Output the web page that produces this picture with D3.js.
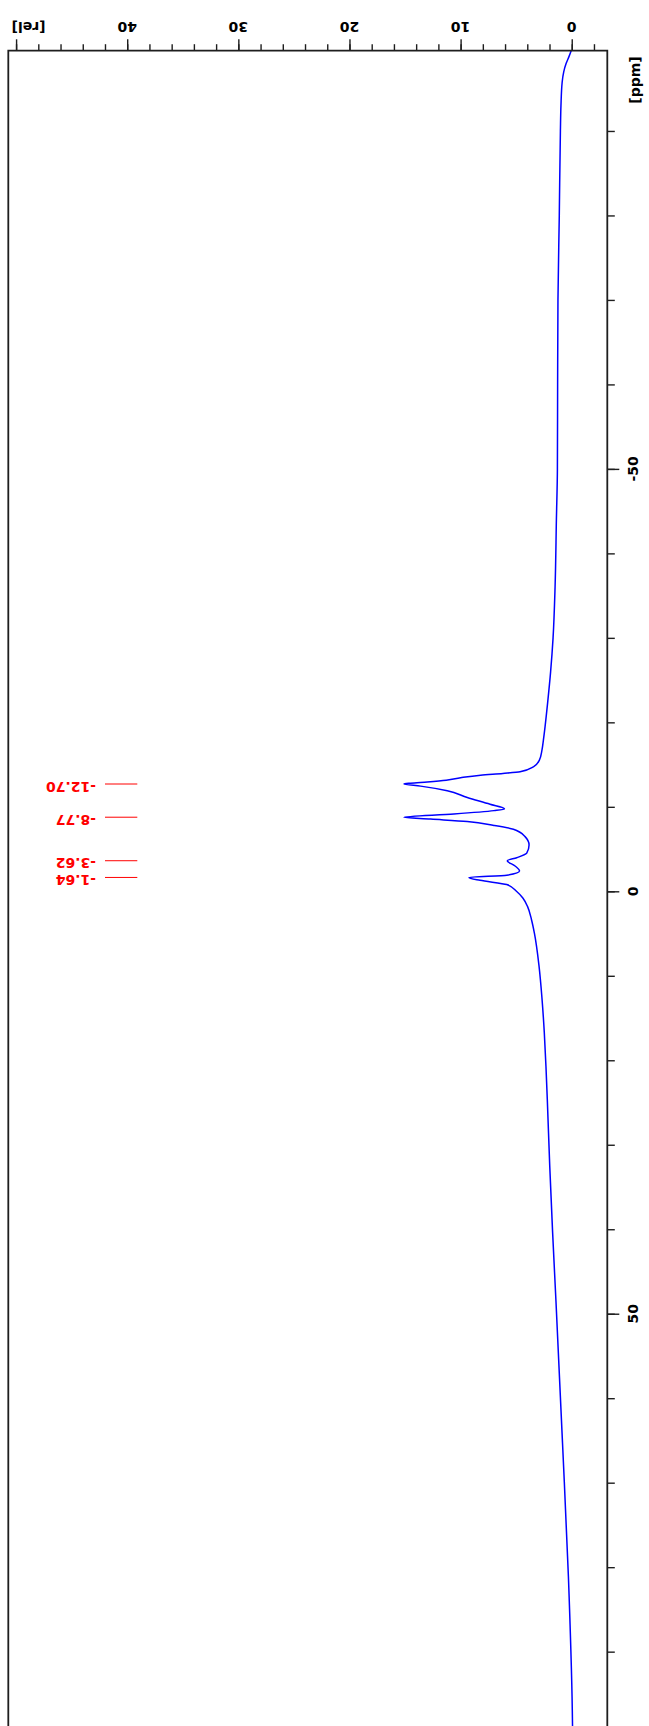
<!DOCTYPE html>
<html>
<head>
<meta charset="utf-8">
<script src="https://cdn.jsdelivr.net/npm/d3@7"></script>
<style>
  html, body { margin: 0; padding: 0; background: #fff; }
  svg { display: block; }
  text { font-family: "DejaVu Sans", sans-serif; font-weight: bold; }
</style>
</head>
<body>
<svg id="chart" width="649" height="1726"></svg>
<script>
// Chemical shift of each sampled spectrum point, in ppm
const shiftPpm = [
  -99.5, -98.8, -98.0, -97.0, -95.8, -93.0, -90.0, -80.0, -70.0, -60.0,
  -50.0, -44.0, -36.0, -30.0, -26.0, -22.3, -19.5, -17.9, -16.7, -15.5,
  -14.73, -14.14, -13.95, -13.75, -13.45, -13.15, -12.95, -12.80, -12.70, -12.45,
  -11.90, -11.10, -10.30, -9.75, -9.55, -9.15, -8.77, -8.55, -8.25, -7.80,
  -7.35, -6.47, -5.49, -4.51, -3.98, -3.62, -3.00, -2.40, -1.90, -1.64,
  -1.30, -0.80, 0.02, 0.80, 1.79, 3.36, 4.95, 8.88, 12.8, 16.7,
  20.7, 24.6, 32.5, 40.4, 48.5, 65.3, 81.1, 96.9, 98.8
];
// Relative intensity at each of those shifts
const intensity = [
  0.05, 0.25, 0.50, 0.72, 0.86, 0.97, 1.02, 1.12, 1.24, 1.27,
  1.29, 1.38, 1.50, 1.68, 1.90, 2.17, 2.40, 2.55, 2.68, 2.92,
  3.45, 4.65, 6.20, 8.20, 10.0, 11.3, 13.0, 14.5, 15.1, 13.6,
  11.2, 9.40, 7.35, 6.05, 7.00, 10.6, 15.1, 12.7, 9.40, 7.00,
  5.25, 4.20, 3.84, 4.05, 4.95, 5.80, 5.10, 4.70, 5.85, 9.25,
  8.25, 5.85, 4.95, 4.40, 3.98, 3.62, 3.36, 2.94, 2.67, 2.47,
  2.32, 2.20, 1.98, 1.72, 1.42, 0.83, 0.30, -0.05, -0.07
];
// Picked peaks
const peakPpm = [-12.70, -8.77, -3.62, -1.64];
const peakLabels = ["-12.70", "-8.77", "-3.62", "-1.64"];

// Axis ticks
const relMinorTicks = d3.range(-2, 51, 2);
const relMajorTicks = [0, 10, 20, 30, 40, 50];
const relTickLabels = ["0", "10", "20", "30", "40", "[rel]"];
const ppmMinorTicks = d3.range(-90, 91, 10);
const ppmMajorTicks = [-50, 0, 50];
const ppmTickLabels = ["-50", "0", "50"];

const svg = d3.select("#chart");

// Plot frame: intensity runs right-to-left along the top, shift runs downward on the right
const frame = { left: 8.3, top: 50.7, right: 607.3, bottom: 1726 };

const x = d3.scaleLinear().domain([50.7, -3.2]).range([frame.left, frame.right]);
const y = d3.scaleLinear().domain([-99.5, 98.8]).range([frame.top, frame.bottom]);

const axisColor = "#1e1e1e";
const labelSize = 14;

// Intensity axis along the top edge
const topMinor = d3.axisTop(x).tickValues(relMinorTicks).tickSize(6.5).tickFormat("");
const topMajor = d3.axisTop(x).tickValues(relMajorTicks).tickSize(11.4).tickFormat("");
[topMinor, topMajor].forEach(ax => {
  const g = svg.append("g").attr("transform", `translate(0,${frame.top})`).call(ax);
  g.select(".domain").remove();
  g.selectAll("line").attr("stroke", axisColor).attr("stroke-width", 1.4);
});

// Shift axis along the right edge
const rightMinor = d3.axisRight(y).tickValues(ppmMinorTicks).tickSize(7.5).tickFormat("");
const rightMajor = d3.axisRight(y).tickValues(ppmMajorTicks).tickSize(12).tickFormat("");
[rightMinor, rightMajor].forEach(ax => {
  const g = svg.append("g").attr("transform", `translate(${frame.right},0)`).call(ax);
  g.select(".domain").remove();
  g.selectAll("line").attr("stroke", axisColor).attr("stroke-width", 1.4);
});

// Intensity tick labels (upside down)
svg.append("g").selectAll("text")
  .data(relMajorTicks)
  .join("text")
  .attr("transform", (d, i) => {
    const px = x(d) + (relTickLabels[i] === "[rel]" ? 12.5 : 0);
    return `translate(${px},26.7) rotate(180)`;
  })
  .attr("text-anchor", "middle")
  .attr("dominant-baseline", "central")
  .attr("font-size", labelSize)
  .attr("fill", "#000")
  .text((d, i) => relTickLabels[i]);

// Shift tick labels (reading bottom to top)
svg.append("g").selectAll("text")
  .data(ppmMajorTicks)
  .join("text")
  .attr("transform", d => `translate(633,${y(d)}) rotate(-90)`)
  .attr("text-anchor", "middle")
  .attr("dominant-baseline", "central")
  .attr("font-size", labelSize)
  .attr("fill", "#000")
  .text((d, i) => ppmTickLabels[i]);

svg.append("text")
  .attr("transform", "translate(635,80) rotate(-90)")
  .attr("text-anchor", "middle")
  .attr("dominant-baseline", "central")
  .attr("font-size", labelSize)
  .attr("fill", "#000")
  .text("[ppm]");

// Spectrum trace
const points = shiftPpm.map((p, i) => ({ p, v: intensity[i] }));
const line = d3.line()
  .x(d => x(d.v))
  .y(d => y(d.p))
  .curve(d3.curveMonotoneY);

svg.append("path")
  .datum(points)
  .attr("fill", "none")
  .attr("stroke", "#0000ff")
  .attr("stroke-width", 1.5)
  .attr("stroke-linejoin", "round")
  .attr("d", line);

// Peak markers and their shift labels
const peaks = svg.append("g");
peaks.selectAll("line")
  .data(peakPpm)
  .join("line")
  .attr("x1", 105).attr("x2", 137.3)
  .attr("y1", d => y(d)).attr("y2", d => y(d))
  .attr("stroke", "#ff0000")
  .attr("stroke-width", 1);

peaks.selectAll("text")
  .data(peakPpm)
  .join("text")
  .attr("transform", d => `translate(96,${y(d) + 2.5}) rotate(180)`)
  .attr("text-anchor", "start")
  .attr("dominant-baseline", "central")
  .attr("font-size", labelSize)
  .attr("fill", "#ff0000")
  .text((d, i) => peakLabels[i]);

// Frame (bottom edge runs past the page)
svg.append("path")
  .attr("d", `M${frame.left},${frame.bottom + 10}V${frame.top}H${frame.right}V${frame.bottom + 10}`)
  .attr("fill", "none")
  .attr("stroke", axisColor)
  .attr("stroke-width", 1.8);
</script>
</body>
</html>
